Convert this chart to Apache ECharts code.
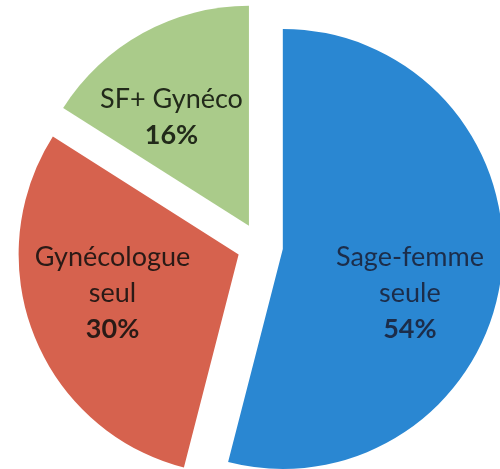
<!DOCTYPE html>
<html>
<head>
<meta charset="utf-8">
<script src="https://cdn.jsdelivr.net/npm/echarts@6/dist/echarts.min.js"></script>
<style>
  html, body { margin: 0; padding: 0; background: #fff; }
  #chart { width: 500px; height: 469px; }
</style>
</head>
<body>
<div id="chart"></div>
<script>
/* répartition du suivi */
var categories = ['Sage-femme\nseule', 'Gynécologue\nseul', 'SF+ Gynéco'];
var values = [54, 30, 16];
var colors = ['#2a87d2', '#d6624e', '#aacb8a'];
var textColors = ['#1c2d4a', '#2a1a16', '#222a1a'];
var labelShift = [[15, 30], [-21, -3], [-23, -10]];

var pieData = [];
for (var i = 0; i < values.length; i++) {
    pieData.push({
        name: categories[i],
        value: values[i],
        selected: true,
        itemStyle: { color: colors[i] },
        label: { color: textColors[i] }
    });
}

var chart = echarts.init(document.getElementById('chart'));
var option = {
    backgroundColor: '#fff',
    animation: false,
    series: [
        {
            type: 'pie',
            center: [260, 246],
            radius: [0, 220],
            startAngle: 90,
            clockwise: true,
            selectedMode: 'multiple',
            selectedOffset: 23,
            silent: true,
            itemStyle: { borderWidth: 0 },
            label: {
                show: true,
                position: 'inside',
                fontFamily: 'Lato',
                fontSize: 27,
                lineHeight: 36,
                align: 'center',
                formatter: function (p) {
                    return '{n|' + p.name.split('\n').join('}\n{n|') + '}\n{v|' + p.value + '%}';
                },
                rich: {
                    n: { fontFamily: 'Lato', fontSize: 27, lineHeight: 36 },
                    v: { fontFamily: 'Lato', fontSize: 27, lineHeight: 36, fontWeight: 'bold' }
                }
            },
            labelLayout: function (p) {
                return { dx: labelShift[p.dataIndex][0], dy: labelShift[p.dataIndex][1] };
            },
            labelLine: { show: false },
            data: pieData
        }
    ]
};
chart.setOption(option);
</script>
</body>
</html>
